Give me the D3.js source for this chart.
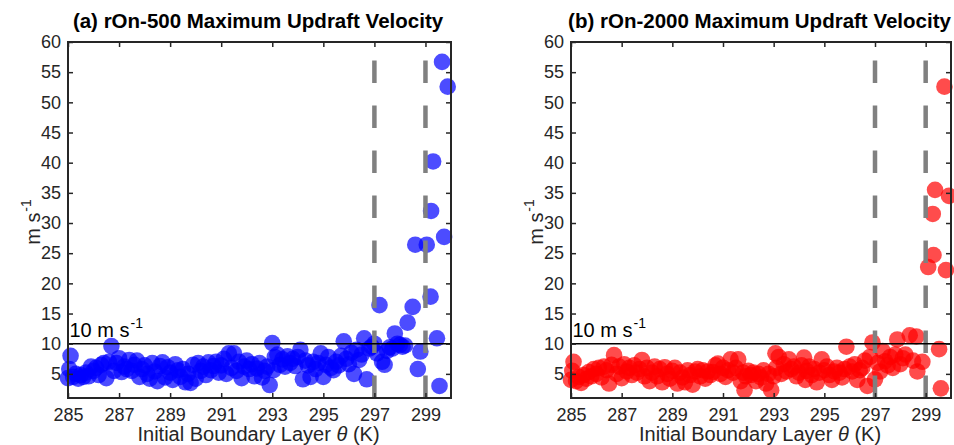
<!DOCTYPE html>
<html>
<head>
<meta charset="utf-8">
<script src="https://cdn.jsdelivr.net/npm/d3@7"></script>
<style>
  body { margin: 0; background: #fff; }
  svg { font-family: Arial, Helvetica, sans-serif; }
</style>
</head>
<body>
<svg id="chart" width="954" height="445"></svg>
<script>
// panel titles
const titles = ["(a) rOn-500 Maximum Updraft Velocity", "(b) rOn-2000 Maximum Updraft Velocity"];

// tick labels
const xTicks = [285, 287, 289, 291, 293, 295, 297, 299];
const yTicks = [5, 10, 15, 20, 25, 30, 35, 40, 45, 50, 55, 60];

// dashed markers and threshold
const dashedX = [297, 299];
const threshold = 10;

// rOn-500 [theta, w]
const ron500 = [
  [285.0, 4.3], [285.05, 5.8], [285.1, 8.0], [285.2, 4.5], [285.3, 5.0], [285.4, 4.2], [285.5, 4.8],
  [285.6, 4.5], [285.7, 5.2], [285.8, 4.6], [285.9, 6.2], [286.0, 5.5], [286.1, 6.0], [286.2, 4.8],
  [286.3, 6.5], [286.4, 6.8], [286.5, 4.3], [286.6, 7.0], [286.7, 9.6], [286.8, 5.5], [286.9, 6.8],
  [287.0, 7.6], [287.1, 5.3], [287.2, 6.2], [287.3, 5.8], [287.4, 7.3], [287.5, 5.5], [287.6, 6.5],
  [287.7, 7.2], [287.8, 4.5], [287.9, 5.8], [288.0, 6.4], [288.1, 5.0], [288.2, 4.2], [288.3, 6.8],
  [288.4, 5.4], [288.5, 3.8], [288.6, 6.3], [288.7, 6.9], [288.8, 4.4], [288.9, 6.1], [289.0, 5.2],
  [289.1, 4.0], [289.2, 6.6], [289.3, 5.6], [289.4, 4.5], [289.5, 5.8], [289.6, 3.6], [289.7, 5.0],
  [289.8, 3.5], [289.9, 6.5], [290.0, 4.2], [290.1, 6.8], [290.2, 5.5], [290.3, 6.2], [290.4, 4.8],
  [290.5, 6.9], [290.6, 5.6], [290.7, 6.3], [290.8, 7.0], [290.9, 5.2], [291.0, 6.4], [291.1, 7.5],
  [291.2, 5.0], [291.3, 8.4], [291.4, 6.0], [291.5, 8.4], [291.6, 5.5], [291.7, 7.0], [291.8, 4.3],
  [291.9, 6.2], [292.0, 7.2], [292.1, 5.8], [292.2, 6.6], [292.3, 4.6], [292.4, 5.9], [292.5, 6.8],
  [292.6, 4.4], [292.7, 5.5], [292.8, 6.2], [292.9, 3.15], [293.0, 10.1], [293.05, 5.6], [293.1, 7.8],
  [293.2, 8.2], [293.3, 6.5], [293.4, 7.4], [293.5, 6.2], [293.6, 7.9], [293.7, 6.8], [293.8, 7.5],
  [293.9, 6.3], [294.0, 7.8], [294.1, 9.0], [294.2, 4.1], [294.3, 7.2], [294.4, 6.4], [294.5, 4.5],
  [294.6, 7.0], [294.7, 5.8], [294.8, 6.8], [294.9, 8.4], [295.0, 4.5], [295.1, 6.5], [295.2, 7.8],
  [295.3, 6.0], [295.4, 5.6], [295.5, 7.0], [295.6, 6.4], [295.7, 8.0], [295.8, 10.4], [295.9, 7.5],
  [296.0, 6.6], [296.1, 8.5], [296.2, 5.0], [296.3, 9.0], [296.4, 7.3], [296.5, 8.2], [296.6, 10.9],
  [296.7, 4.1], [296.8, 9.2], [296.9, 9.5], [297.0, 10.0], [297.1, 8.4], [297.2, 16.4], [297.3, 7.0],
  [297.4, 6.5], [297.5, 8.8], [297.6, 9.4], [297.7, 9.2], [297.8, 11.7], [297.9, 10.0], [298.0, 9.8],
  [298.1, 9.5], [298.2, 9.7], [298.3, 13.5], [298.5, 16.1], [298.6, 26.4], [298.7, 5.8], [298.8, 8.7],
  [299.05, 26.4], [299.2, 17.8], [299.22, 32.0], [299.3, 40.2], [299.45, 10.9], [299.55, 3.0],
  [299.65, 56.7], [299.73, 27.7], [299.87, 52.6]
];

// rOn-2000 [theta, w]
const ron2000 = [
  [285.0, 4.0], [285.05, 5.5], [285.1, 7.0], [285.2, 3.8], [285.3, 4.5], [285.4, 3.5], [285.5, 4.8],
  [285.6, 4.2], [285.7, 5.3], [285.8, 4.6], [285.9, 5.8], [286.0, 5.0], [286.1, 6.0], [286.2, 4.4],
  [286.3, 6.2], [286.4, 5.6], [286.5, 3.4], [286.6, 6.5], [286.7, 8.1], [286.8, 5.0], [286.9, 6.2],
  [287.0, 4.3], [287.1, 6.6], [287.2, 5.4], [287.3, 6.0], [287.4, 4.8], [287.5, 6.4], [287.6, 5.2],
  [287.7, 5.8], [287.8, 7.3], [287.9, 4.6], [288.0, 6.0], [288.1, 3.8], [288.2, 5.2], [288.3, 6.2],
  [288.4, 4.6], [288.5, 5.8], [288.6, 3.6], [288.7, 6.1], [288.8, 5.0], [288.9, 4.2], [289.0, 5.5],
  [289.1, 6.0], [289.2, 3.4], [289.3, 5.2], [289.4, 4.4], [289.5, 3.6], [289.6, 5.6], [289.7, 4.8],
  [289.8, 3.2], [289.9, 5.4], [290.0, 5.8], [290.1, 4.6], [290.2, 5.6], [290.3, 4.2], [290.4, 5.4],
  [290.5, 4.8], [290.6, 5.3], [290.7, 6.4], [290.8, 6.7], [290.9, 5.0], [291.0, 6.0], [291.1, 4.5],
  [291.2, 5.6], [291.3, 7.4], [291.4, 5.2], [291.5, 6.0], [291.6, 7.4], [291.7, 3.8], [291.8, 5.2],
  [291.85, 2.3], [291.9, 4.6], [292.0, 5.5], [292.1, 4.8], [292.2, 5.2], [292.3, 3.8], [292.4, 5.0],
  [292.5, 4.4], [292.6, 5.6], [292.7, 3.4], [292.8, 5.0], [292.9, 2.3], [293.0, 4.6], [293.07, 8.4],
  [293.1, 6.0], [293.2, 7.8], [293.3, 5.0], [293.4, 6.6], [293.5, 5.4], [293.6, 7.4], [293.7, 5.8],
  [293.8, 6.2], [293.9, 4.6], [294.0, 5.2], [294.1, 6.4], [294.2, 7.7], [294.25, 4.0], [294.3, 5.5],
  [294.4, 6.2], [294.5, 4.8], [294.6, 5.8], [294.7, 3.6], [294.8, 5.2], [294.9, 7.4], [295.0, 5.6],
  [295.1, 6.2], [295.2, 4.8], [295.3, 4.0], [295.4, 5.4], [295.5, 6.0], [295.6, 5.2], [295.7, 4.4],
  [295.8, 5.8], [295.87, 9.5], [296.0, 6.2], [296.1, 5.4], [296.2, 6.6], [296.3, 4.0], [296.4, 5.6],
  [296.5, 6.0], [296.6, 7.2], [296.7, 3.0], [296.8, 7.8], [296.9, 10.2], [297.0, 4.1], [297.1, 6.8],
  [297.2, 5.4], [297.3, 8.8], [297.4, 7.1], [297.5, 6.4], [297.6, 7.8], [297.7, 6.0], [297.8, 8.2],
  [297.88, 10.7], [298.0, 6.6], [298.1, 7.6], [298.2, 8.2], [298.37, 11.4], [298.5, 7.2], [298.63, 11.2],
  [298.67, 5.4], [298.87, 7.0], [299.1, 22.7], [299.28, 31.5], [299.31, 24.7], [299.37, 35.5],
  [299.53, 9.1], [299.6, 2.6], [299.74, 52.6], [299.8, 22.2], [299.92, 34.5]
];

const svg = d3.select("#chart");
const axisColor = "#262626";

const panels = [
  { title: titles[0], data: ron500, color: "#0000ff", left: 68, right: 451 },
  { title: titles[1], data: ron2000, color: "#ff0000", left: 571, right: 951 }
];
const plotTop = 42, plotBottom = 398;

panels.forEach(p => {
  const x = d3.scaleLinear().domain([285, 300]).range([p.left, p.right]);
  const y = d3.scaleLinear().domain([1, 60]).range([plotBottom, plotTop]);
  const g = svg.append("g");

  // points
  g.append("g").selectAll("circle")
    .data(p.data)
    .enter()
    .append("circle")
    .attr("cx", d => x(d[0]))
    .attr("cy", d => y(d[1]))
    .attr("r", 8.3)
    .attr("fill", p.color)
    .attr("fill-opacity", 0.7);

  // dashed theta lines, dash pattern starts at the bottom
  g.selectAll(".dash")
    .data(dashedX)
    .enter()
    .append("line")
    .attr("x1", d => x(d)).attr("x2", d => x(d))
    .attr("y1", y(1)).attr("y2", y(60))
    .attr("stroke", "#808080")
    .attr("stroke-width", 4.5)
    .attr("stroke-dasharray", "22.5,22.5");

  // 10 m/s line
  g.append("line")
    .attr("x1", x(285)).attr("x2", x(300))
    .attr("y1", y(threshold)).attr("y2", y(threshold))
    .attr("stroke", "#000").attr("stroke-width", 1.6);

  const lbl = g.append("text")
    .attr("x", x(285) + 1.5).attr("y", y(threshold) - 7)
    .attr("font-size", 20).attr("fill", "#000");
  lbl.append("tspan").text("10 m s");
  lbl.append("tspan").attr("font-size", 14).attr("dy", -9).attr("dx", 1).text("-1");

  // axes, ticks point inward on all four sides
  const fmtAxis = a => a.selectAll("text").attr("fill", axisColor).attr("font-size", 18);
  g.append("g").attr("transform", `translate(0,${plotBottom})`)
    .call(d3.axisBottom(x).tickValues(xTicks).tickSizeInner(-5).tickSizeOuter(0).tickPadding(10))
    .call(fmtAxis);
  g.append("g").attr("transform", `translate(0,${plotTop})`)
    .call(d3.axisTop(x).tickValues(xTicks).tickSizeInner(-5).tickSizeOuter(0).tickFormat(""));
  g.append("g").attr("transform", `translate(${p.left},0)`)
    .call(d3.axisLeft(y).tickValues(yTicks).tickSizeInner(-5).tickSizeOuter(0).tickPadding(7))
    .call(fmtAxis);
  g.append("g").attr("transform", `translate(${p.right},0)`)
    .call(d3.axisRight(y).tickValues(yTicks).tickSizeInner(-5).tickSizeOuter(0).tickFormat(""));
  g.selectAll(".domain").remove();
  g.selectAll(".tick line").attr("stroke", axisColor).attr("stroke-width", 1.5);

  // box
  g.append("rect")
    .attr("x", p.left).attr("y", plotTop)
    .attr("width", p.right - p.left).attr("height", plotBottom - plotTop)
    .attr("fill", "none").attr("stroke", axisColor).attr("stroke-width", 2);

  const cx = (p.left + p.right) / 2;

  // title
  g.append("text")
    .attr("x", cx - 1.5).attr("y", 28)
    .attr("text-anchor", "middle")
    .attr("font-size", 20.5).attr("font-weight", "bold").attr("fill", "#000")
    .text(p.title);

  // x label
  const xl = g.append("text")
    .attr("x", cx - 1).attr("y", 441)
    .attr("text-anchor", "middle")
    .attr("font-size", 20).attr("fill", axisColor);
  xl.append("tspan").text("Initial Boundary Layer ");
  xl.append("tspan").attr("font-style", "italic").text("θ");
  xl.append("tspan").text(" (K)");

  // y label
  const yl = g.append("text")
    .attr("transform", `translate(${p.left - 28},222) rotate(-90)`)
    .attr("text-anchor", "middle")
    .attr("font-size", 20).attr("fill", axisColor);
  yl.append("tspan").text("m s");
  yl.append("tspan").attr("font-size", 14).attr("dy", -9).attr("dx", 1).text("-1");
});
</script>
</body>
</html>
